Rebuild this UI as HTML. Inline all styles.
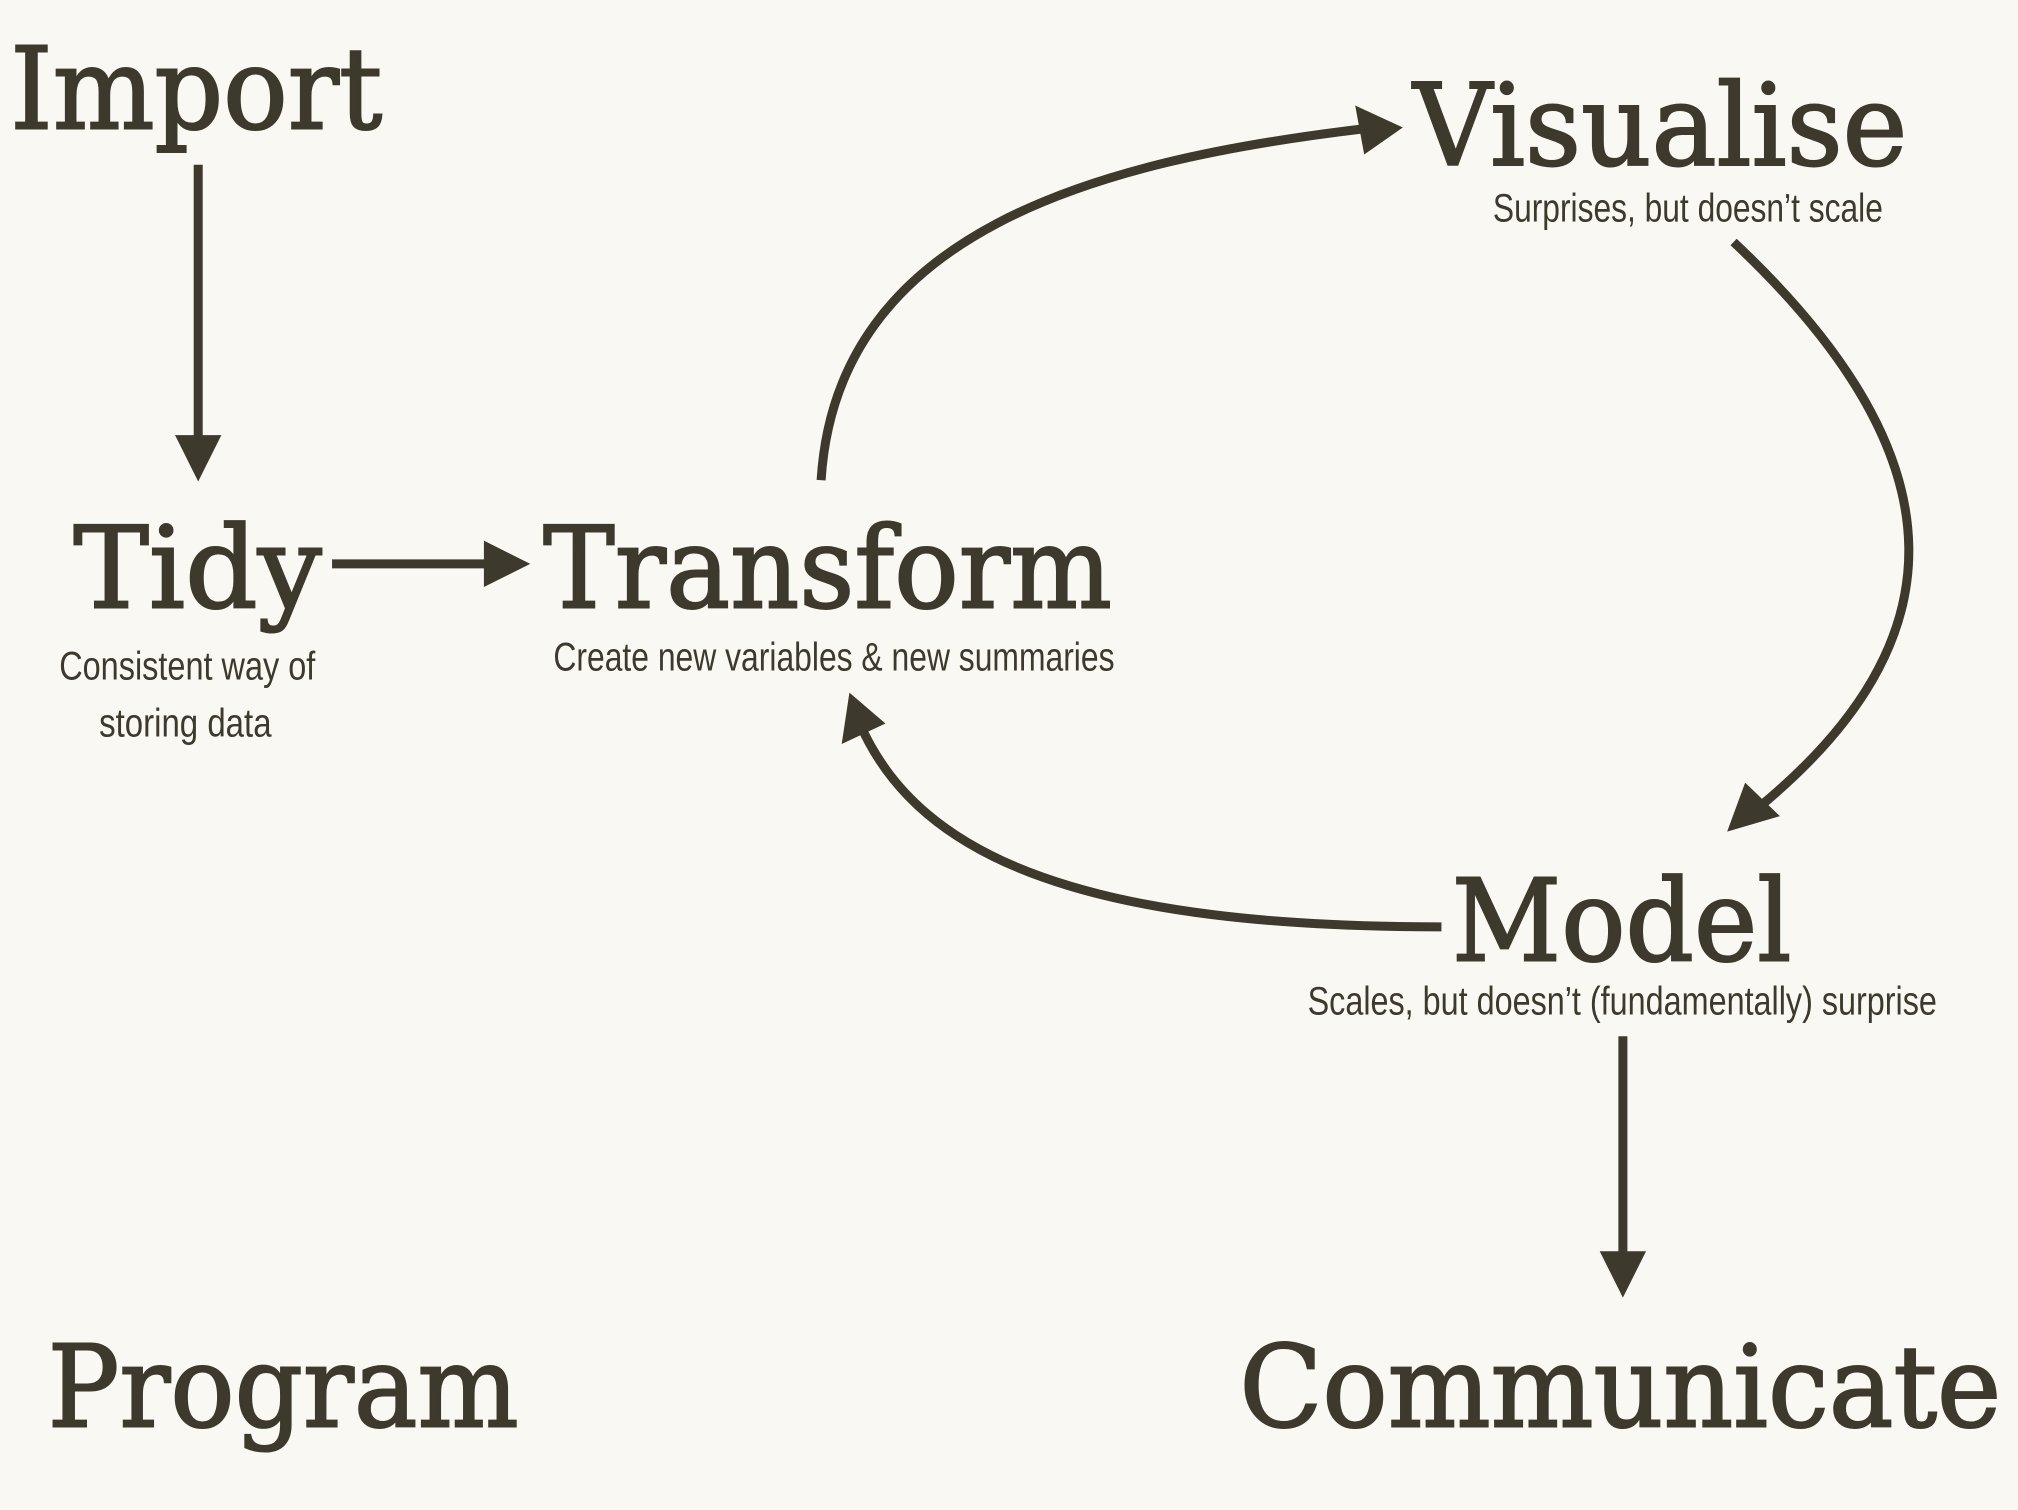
<!DOCTYPE html>
<html><head><meta charset="utf-8"><style>
html,body{margin:0;padding:0;background:#f9f8f3;}
svg{display:block}
.h{font-family:"DejaVu Serif","Liberation Serif",serif;font-weight:normal;fill:#3d392c;stroke:#3d392c;stroke-width:1.6;font-size:88px}
.s{font-family:"Liberation Sans Narrow","Liberation Sans",sans-serif;fill:#3d392c;font-size:31px}
</style></head><body>
<svg width="2018" height="1510" viewBox="0 0 1568 1173" preserveAspectRatio="none" xmlns="http://www.w3.org/2000/svg">
<rect width="1568" height="1173" fill="#f9f8f3"/>
<text class="h" x="8" y="100" textLength="289" lengthAdjust="spacingAndGlyphs">Import</text>
<text class="h" x="1098" y="128" textLength="384" lengthAdjust="spacingAndGlyphs">Visualise</text>
<text class="h" x="57" y="472" textLength="193" lengthAdjust="spacingAndGlyphs">Tidy</text>
<text class="h" x="422" y="472" textLength="442" lengthAdjust="spacingAndGlyphs">Transform</text>
<text class="h" x="1128" y="746" textLength="264" lengthAdjust="spacingAndGlyphs">Model</text>
<text class="h" x="37" y="1108" textLength="366" lengthAdjust="spacingAndGlyphs">Program</text>
<text class="h" x="963" y="1108" textLength="592" lengthAdjust="spacingAndGlyphs">Communicate</text>
<text class="s" x="1160" y="172" textLength="303" lengthAdjust="spacingAndGlyphs">Surprises, but doesn’t scale</text>
<text class="s" x="46" y="528" textLength="199" lengthAdjust="spacingAndGlyphs">Consistent way of</text>
<text class="s" x="77" y="572" textLength="134" lengthAdjust="spacingAndGlyphs">storing data</text>
<text class="s" x="430" y="521" textLength="436" lengthAdjust="spacingAndGlyphs">Create new variables &amp; new summaries</text>
<text class="s" x="1016" y="788" textLength="489" lengthAdjust="spacingAndGlyphs">Scales, but doesn’t (fundamentally) surprise</text>
<g stroke="#3d392c" stroke-width="7" fill="none">
<line x1="154" y1="128" x2="154" y2="342"/>
<line x1="258" y1="438" x2="380" y2="438"/>
<path d="M638,373 C650,180 850,125 1060,100"/>
<path d="M1347,188 C1530,360 1520,500 1368,626"/>
<path d="M1120,720 C850,720 715,670 668,562"/>
<line x1="1261" y1="805" x2="1261" y2="976"/>
</g>
<g fill="#3d392c">
<polygon points="136,338 172,338 154,374"/>
<polygon points="376,420 376,456 412,438"/>
<polygon points="1053,82 1090,99 1060,120"/>
<polygon points="1342,646 1356,608 1383,634"/>
<polygon points="660,538 654,578 688,562"/>
<polygon points="1243,972 1279,972 1261,1008"/>
</g>
</svg>
</body></html>
